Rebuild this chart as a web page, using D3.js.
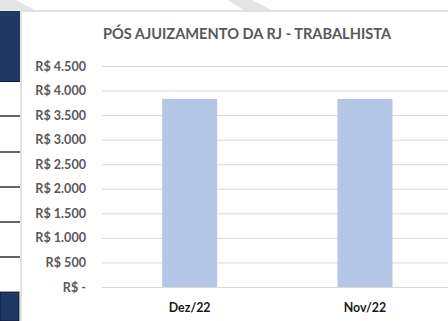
<!DOCTYPE html>
<html>
<head>
<meta charset="utf-8">
<script src="https://cdn.jsdelivr.net/npm/d3@7"></script>
<style>
  html, body { margin: 0; padding: 0; background: #fff; }
  svg { display: block; }
</style>
</head>
<body>
<svg id="chart" width="448" height="321"></svg>
<script>
// Monthly amounts after the judicial recovery filing (labour claims)
const categories = ["Dez/22", "Nov/22"];
const values = [3830, 3830];
const yTicks = [0, 500, 1000, 1500, 2000, 2500, 3000, 3500, 4000, 4500];
const title = "PÓS AJUIZAMENTO DA RJ - TRABALHISTA";

const fmt = v => v === 0 ? "R$ -" : "R$ " + d3.format(",")(v).replace(/,/g, ".");

const svg = d3.select("#chart");
const font = "Lato, 'Open Sans', sans-serif";

// slide backdrop: faint grey arrow strokes above the chart frame
const deco = svg.append("g").attr("fill", "#e4e4e6");
deco.append("path").attr("d", "M0,0 L16,0 L36,11 L0,11 Z");
deco.append("path").attr("d", "M228,0 L252,0 L273,11 L245,11 Z");

// table fragment on the slide to the left of the chart
const side = svg.append("g");
side.append("rect").attr("x", 0).attr("y", 11).attr("width", 20).attr("height", 70).attr("fill", "#1f3864");
side.append("line").attr("x1", 0).attr("x2", 20).attr("y1", 81.5).attr("y2", 81.5).attr("stroke", "#0d1a33").attr("stroke-width", 1);
[116, 152, 187, 222, 257].forEach(y => {
  side.append("line").attr("x1", 0).attr("x2", 20).attr("y1", y).attr("y2", y)
    .attr("stroke", "#111").attr("stroke-width", 1.3);
});
side.append("rect").attr("x", 0).attr("y", 292).attr("width", 19).attr("height", 29)
  .attr("fill", "#1f3864").attr("stroke", "#111").attr("stroke-width", 0.8);

// chart frame
svg.append("rect").attr("x", 21).attr("y", 11).attr("width", 440).attr("height", 320)
  .attr("fill", "#fff").attr("stroke", "#d9d9d9").attr("stroke-width", 1.5);

const plot = { left: 102, right: 452.6, top: 66, bottom: 287 };

const x = d3.scaleBand().domain(categories).range([plot.left, plot.right])
  .paddingInner(0.686).paddingOuter(0.343);
const y = d3.scaleLinear().domain([0, 4500]).range([plot.bottom, plot.top]);

// horizontal gridlines
svg.append("g")
  .attr("transform", `translate(${plot.left},0)`)
  .call(d3.axisLeft(y).tickValues(yTicks).tickSize(-(plot.right - plot.left)).tickFormat(""))
  .call(g => g.select(".domain").remove())
  .call(g => g.selectAll("line").attr("stroke", "#d9d9d9").attr("stroke-width", 1));

// bars
svg.append("g").selectAll("rect").data(values).join("rect")
  .attr("x", (d, i) => x(categories[i]))
  .attr("width", x.bandwidth())
  .attr("y", d => y(d))
  .attr("height", d => y(0) - y(d))
  .attr("fill", "#b4c7e7");

// y tick labels
svg.append("g")
  .attr("transform", `translate(86,0)`)
  .call(d3.axisLeft(y).tickValues(yTicks).tickSize(0).tickPadding(0).tickFormat(fmt))
  .call(g => g.select(".domain").remove())
  .call(g => g.selectAll("text")
    .attr("font-family", font).attr("font-size", "12.6px").attr("font-weight", "bold")
    .attr("fill", "#595959"));

// category labels
svg.append("g")
  .attr("transform", `translate(0,${plot.bottom})`)
  .call(d3.axisBottom(x).tickSize(0).tickPadding(16))
  .call(g => g.select(".domain").remove())
  .call(g => g.selectAll("text")
    .attr("font-family", font).attr("font-size", "12.4px").attr("font-weight", "bold")
    .attr("fill", "#1a1a1a"));

// title
svg.append("text")
  .attr("x", 247).attr("y", 39)
  .attr("text-anchor", "middle")
  .attr("font-family", font).attr("font-size", "14.6px").attr("font-weight", "bold")
  .attr("fill", "#595959")
  .text(title);
</script>
</body>
</html>
